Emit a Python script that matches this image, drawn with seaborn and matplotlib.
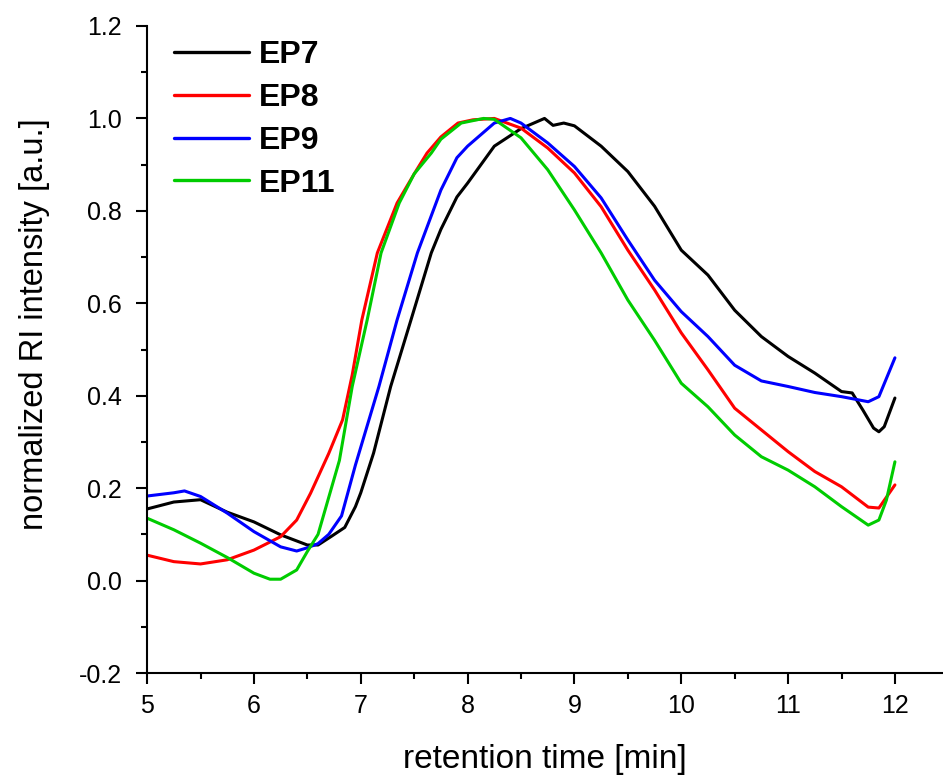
import numpy as np
import pandas as pd
import matplotlib
matplotlib.use("Agg")
import matplotlib.pyplot as plt
import seaborn as sns
from matplotlib.ticker import MultipleLocator

# retention time [min] / normalized RI intensity
ep7_t = [5.0, 5.25, 5.5, 5.75, 6.0, 6.25, 6.5, 6.6, 6.72, 6.85, 6.95, 7.0, 7.12, 7.28,
         7.47, 7.66, 7.75, 7.9, 8.0, 8.25, 8.5, 8.72, 8.8, 8.9, 9.0, 9.25, 9.5, 9.75,
         10.0, 10.25, 10.5, 10.75, 11.0, 11.25, 11.5, 11.6, 11.7, 11.8, 11.85, 11.9, 12.0]
ep7_y = [0.155, 0.17, 0.175, 0.148, 0.127, 0.099, 0.077, 0.077, 0.095, 0.115, 0.16, 0.19,
         0.276, 0.42, 0.564, 0.709, 0.76, 0.83, 0.86, 0.94, 0.978, 1.0, 0.985, 0.99, 0.984,
         0.94, 0.885, 0.81, 0.715, 0.661, 0.585, 0.528, 0.485, 0.449, 0.409, 0.406, 0.369,
         0.33, 0.322, 0.333, 0.395]

ep8_t = [5.0, 5.25, 5.5, 5.75, 6.0, 6.25, 6.4, 6.53, 6.7, 6.83, 6.92, 7.01, 7.155, 7.34,
         7.5, 7.62, 7.75, 7.91, 8.05, 8.25, 8.5, 8.75, 9.0, 9.25, 9.5, 9.75, 10.0, 10.25,
         10.5, 10.75, 11.0, 11.25, 11.5, 11.75, 11.85, 12.0]
ep8_y = [0.055, 0.041, 0.036, 0.045, 0.066, 0.095, 0.131, 0.189, 0.275, 0.348, 0.445,
         0.564, 0.709, 0.817, 0.88, 0.925, 0.96, 0.99, 0.997, 1.0, 0.979, 0.936, 0.882,
         0.809, 0.715, 0.629, 0.536, 0.456, 0.373, 0.326, 0.279, 0.236, 0.203, 0.159,
         0.157, 0.207]

ep9_t = [5.0, 5.25, 5.35, 5.5, 5.75, 6.0, 6.25, 6.4, 6.5, 6.6, 6.7, 6.82, 6.95, 7.17,
         7.34, 7.53, 7.75, 7.9, 8.0, 8.25, 8.4, 8.5, 8.75, 9.0, 9.25, 9.5, 9.75, 10.0,
         10.25, 10.5, 10.75, 11.0, 11.25, 11.5, 11.75, 11.85, 12.0]
ep9_y = [0.183, 0.19, 0.194, 0.182, 0.146, 0.106, 0.073, 0.064, 0.071, 0.08, 0.1, 0.14,
         0.25, 0.42, 0.564, 0.709, 0.845, 0.915, 0.94, 0.99, 1.0, 0.99, 0.947, 0.896,
         0.828, 0.737, 0.65, 0.582, 0.528, 0.466, 0.432, 0.42, 0.407, 0.398, 0.387, 0.398,
         0.482]

ep11_t = [5.0, 5.25, 5.5, 5.75, 6.0, 6.15, 6.25, 6.4, 6.5, 6.6, 6.75, 6.8, 6.92, 7.06,
          7.19, 7.36, 7.5, 7.66, 7.75, 7.94, 8.15, 8.25, 8.5, 8.75, 9.0, 9.25, 9.5, 9.75,
          10.0, 10.25, 10.5, 10.75, 11.0, 11.25, 11.5, 11.75, 11.85, 11.92, 12.0]
ep11_y = [0.135, 0.11, 0.081, 0.05, 0.016, 0.003, 0.003, 0.023, 0.063, 0.1, 0.22, 0.26,
          0.42, 0.564, 0.709, 0.817, 0.88, 0.925, 0.955, 0.99, 1.0, 0.998, 0.958, 0.889,
          0.802, 0.709, 0.607, 0.52, 0.427, 0.376, 0.315, 0.268, 0.239, 0.203, 0.16, 0.12,
          0.131, 0.174, 0.257]

samples = ["EP7", "EP8", "EP9", "EP11"]
colors = {"EP7": "#000000", "EP8": "#FF0000", "EP9": "#0000FF", "EP11": "#00CC00"}

frames = []
for name, t, y in [("EP7", ep7_t, ep7_y), ("EP8", ep8_t, ep8_y),
                   ("EP9", ep9_t, ep9_y), ("EP11", ep11_t, ep11_y)]:
    frames.append(pd.DataFrame({"time": t, "intensity": y, "sample": name}))
df = pd.concat(frames, ignore_index=True)

sns.set_style("ticks")
plt.rcParams["font.family"] = ["Liberation Sans", "DejaVu Sans"]
plt.rcParams.update({"text.color": "black", "axes.labelcolor": "black",
                     "xtick.color": "black", "ytick.color": "black"})

fig = plt.figure(figsize=(9.43, 7.76), dpi=100)
ax = fig.add_axes([0.156, 0.1327, 0.844, 0.8338])

sns.lineplot(data=df, x="time", y="intensity", hue="sample", hue_order=samples,
             palette=colors, linewidth=2.2, sort=False, estimator=None, ax=ax)

ax.set_xlim(5, 12.45)
ax.set_ylim(-0.2, 1.2)
ax.xaxis.set_major_locator(MultipleLocator(1))
ax.xaxis.set_minor_locator(MultipleLocator(0.5))
ax.yaxis.set_major_locator(MultipleLocator(0.2))
ax.yaxis.set_minor_locator(MultipleLocator(0.1))
ax.yaxis.set_major_formatter(plt.FuncFormatter(lambda v, p: f"{v:.1f}"))

for side in ("top", "right"):
    ax.spines[side].set_visible(False)
for side in ("left", "bottom"):
    ax.spines[side].set_linewidth(1.5)
    ax.spines[side].set_color("black")

ax.tick_params(which="major", direction="out", length=8, width=1.5, labelsize=18, pad=7)
ax.tick_params(axis="y", which="major", pad=10)
ax.tick_params(which="minor", direction="out", length=4.5, width=1.5)

ax.set_xlabel("retention time [min]", fontsize=24, labelpad=19)
ax.set_ylabel("normalized RI intensity [a.u.]", fontsize=23.5)
ax.yaxis.set_label_coords(-0.122, 0.54)

leg = ax.legend(loc="upper left", bbox_to_anchor=(0.034, 0.978), frameon=False,
                borderaxespad=0, borderpad=0, handlelength=2.35, handletextpad=0.3,
                labelspacing=0.4, prop={"weight": "bold", "size": 23})
for line in leg.get_lines():
    line.set_linewidth(2.4)

fig.savefig("out.png", dpi=100)
